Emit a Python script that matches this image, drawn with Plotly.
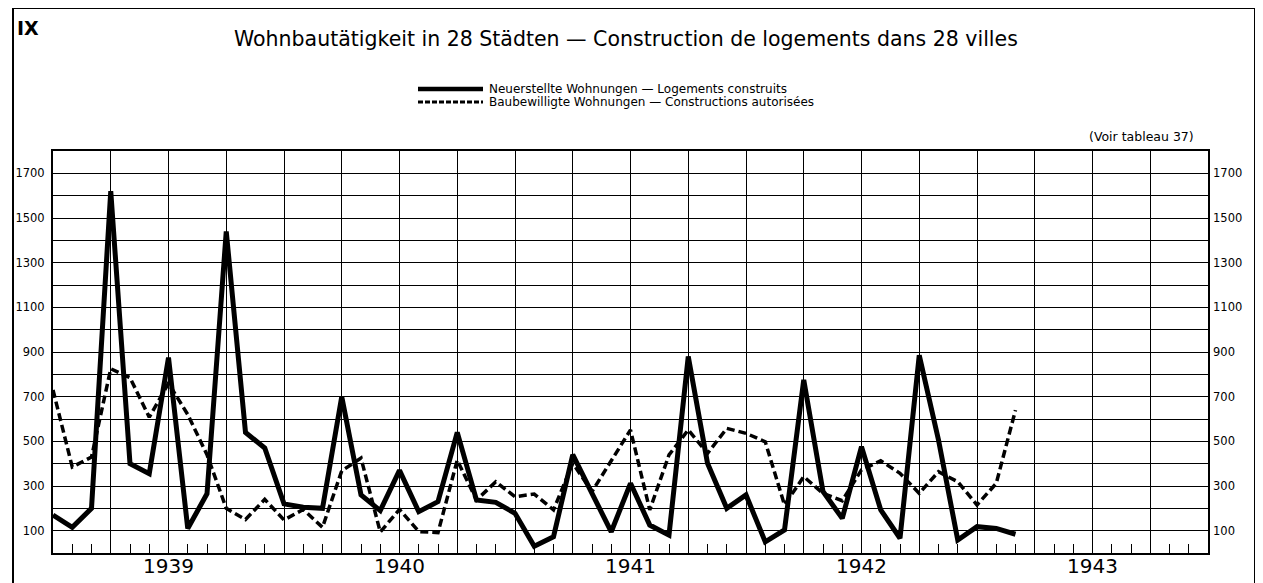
import plotly.graph_objects as go

# ---- data (month index 0 = January 1939) ----
years = ["1939", "1940", "1941", "1942", "1943"]
months = [f"{1939 + i // 12}-{i % 12 + 1:02d}" for i in range(51)]

neuerstellte = [170, 115, 200, 1620, 400, 355, 875, 110, 265, 1440, 540, 470,
                220, 205, 200, 700, 260, 190, 370, 185, 230, 540, 237, 227,
                178, 30, 73, 440, 267, 95, 312, 125, 80, 880, 402, 200,
                260, 50, 103, 775, 275, 155, 476, 193, 66, 885, 506, 58,
                118, 110, 84]

baubewilligte = [730, 385, 430, 825, 785, 608, 760, 620, 440, 200, 150, 240,
                 148, 195, 115, 368, 425, 94, 195, 96, 91, 416, 237, 319,
                 252, 264, 193, 402, 275, 416, 551, 193, 439, 551, 446, 558,
                 536, 498, 215, 342, 267, 234, 372, 413, 357, 267, 364, 319,
                 215, 312, 640]

y_ticks = list(range(0, 1801, 100))
y_text = [str(v) if (v % 200 == 100) else "" for v in y_ticks]

x_ticks = list(range(0, 61, 3))
x_text = [""] * len(x_ticks)
for i, yr in enumerate(years):
    x_text[x_ticks.index(6 + 12 * i)] = yr

label_solid = "Neuerstellte Wohnungen — Logements construits"
label_dash = "Baubewilligte Wohnungen — Constructions autorisées"

FONT = "DejaVu Sans"
OFF = 8  # page body margin
W, H = 1263 - OFF, 583 - OFF
# plot area in screen pixels
SL, SR, ST, SB = 53, 1208, 151, 553
L, R, T, B = SL - OFF, SR - OFF, ST - OFF, SB - OFF


def px(x):  # screen x -> paper
    return (x - SL) / (SR - SL)


def py(y):  # screen y -> paper
    return (SB - y) / (SB - ST)


x_idx = list(range(len(months)))

fig = go.Figure()
fig.add_trace(go.Scatter(x=x_idx, y=neuerstellte, mode="lines", name=label_solid,
                         text=months, line=dict(color="black", width=5)))
fig.add_trace(go.Scatter(x=x_idx, y=baubewilligte, mode="lines", name=label_dash,
                         text=months, line=dict(color="black", width=3.5, dash="8px,4px")))
fig.add_trace(go.Scatter(x=[None], y=[None], yaxis="y2", showlegend=False, hoverinfo="skip"))

fig.update_layout(
    width=W, height=H,
    margin=dict(l=L, r=W - R, t=T, b=H - B, autoexpand=False),
    paper_bgcolor="white", plot_bgcolor="white",
    showlegend=False,
    font=dict(family=FONT, color="black"),
    xaxis=dict(range=[0, 60], tickmode="array", tickvals=x_ticks, ticktext=x_text,
               showgrid=True, gridcolor="black", gridwidth=1.3,
               showline=True, linecolor="black", linewidth=2, mirror=True,
               ticks="inside", ticklen=9, tickcolor="black", tickwidth=1.3,
               minor=dict(tickmode="array", tickvals=list(range(61)), ticks="inside",
                          ticklen=9, tickcolor="black", tickwidth=1.3, showgrid=False),
               tickfont=dict(size=20, family=FONT), ticklabelstandoff=-6,
               zeroline=False, fixedrange=True, automargin=False),
    yaxis=dict(range=[0, 1800], tickmode="array", tickvals=y_ticks, ticktext=y_text,
               showgrid=True, gridcolor="black", gridwidth=1.2,
               showline=True, linecolor="black", linewidth=2, mirror=True,
               ticks="", ticklabelstandoff=4, tickfont=dict(size=11.5, family=FONT),
               zeroline=False, fixedrange=True, automargin=False),
    yaxis2=dict(range=[0, 1800], overlaying="y", side="right", matches="y",
                tickmode="array", tickvals=y_ticks, ticktext=y_text,
                showgrid=False, showline=False, ticks="", ticklabelstandoff=4,
                tickfont=dict(size=11.5, family=FONT), zeroline=False, fixedrange=True,
                automargin=False),
)

shapes = [
    # outer frame
    dict(type="rect", xref="paper", yref="paper",
         x0=px(13), x1=px(1255), y0=py(600), y1=py(8),
         line=dict(color="black", width=2), layer="below"),
    # legend samples
    dict(type="line", xref="paper", yref="paper", x0=px(418), x1=px(483),
         y0=py(89), y1=py(89), line=dict(color="black", width=4.5)),
    dict(type="line", xref="paper", yref="paper", x0=px(418), x1=px(483),
         y0=py(102), y1=py(102), line=dict(color="black", width=3, dash="5px,2px")),
]

annotations = [
    dict(text="<b>IX</b>", xref="paper", yref="paper", x=px(15), y=py(28),
         xanchor="left", yanchor="middle", showarrow=False,
         font=dict(size=19, family=FONT)),
    dict(text="Wohnbautätigkeit in 28 Städten — Construction de logements dans 28 villes",
         xref="paper", yref="paper", x=px(626), y=py(39),
         xanchor="center", yanchor="middle", showarrow=False,
         font=dict(size=20.5, family=FONT)),
    dict(text=label_solid, xref="paper", yref="paper", x=px(487), y=py(89),
         xanchor="left", yanchor="middle", showarrow=False, font=dict(size=12, family=FONT)),
    dict(text=label_dash, xref="paper", yref="paper", x=px(487), y=py(102),
         xanchor="left", yanchor="middle", showarrow=False, font=dict(size=12, family=FONT)),
    dict(text="(Voir tableau 37)", xref="paper", yref="paper", x=px(1196), y=py(136),
         xanchor="right", yanchor="middle", showarrow=False, font=dict(size=12.5, family=FONT)),
]

fig.update_layout(shapes=shapes, annotations=annotations)
fig.write_html("out.html")
